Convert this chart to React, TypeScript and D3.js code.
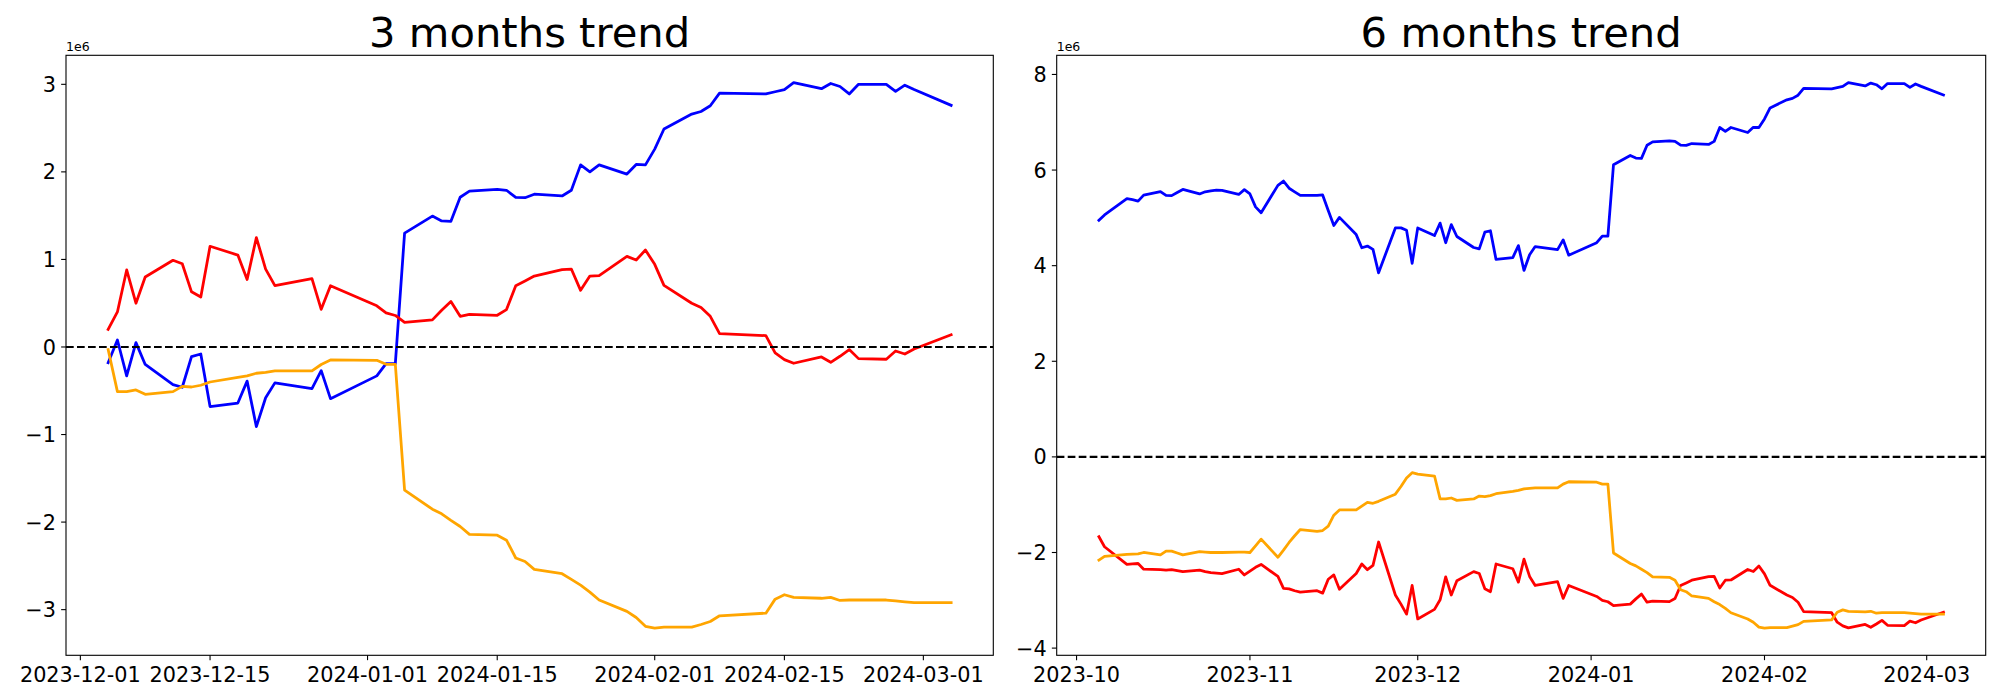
import React from "react";
import * as d3 from "d3";

// ---------- DATA (values in units of 1e6) ----------
// KRX trading days, 2023-10-05 .. 2023-12-01 (only in the 6-month chart)
const earlyDates = [
  "2023-10-05", "2023-10-06", "2023-10-10", "2023-10-11", "2023-10-12", "2023-10-13",
  "2023-10-16", "2023-10-17", "2023-10-18", "2023-10-19", "2023-10-20",
  "2023-10-23", "2023-10-24", "2023-10-25", "2023-10-26", "2023-10-27",
  "2023-10-30", "2023-10-31", "2023-11-01", "2023-11-02", "2023-11-03",
  "2023-11-06", "2023-11-07", "2023-11-08", "2023-11-09", "2023-11-10",
  "2023-11-13", "2023-11-14", "2023-11-15", "2023-11-16", "2023-11-17",
  "2023-11-20", "2023-11-21", "2023-11-22", "2023-11-23", "2023-11-24",
  "2023-11-27", "2023-11-28", "2023-11-29", "2023-11-30", "2023-12-01",
];

// KRX trading days, 2023-12-04 .. 2024-03-04
const dates3m = [
  "2023-12-04", "2023-12-05", "2023-12-06", "2023-12-07", "2023-12-08",
  "2023-12-11", "2023-12-12", "2023-12-13", "2023-12-14", "2023-12-15",
  "2023-12-18", "2023-12-19", "2023-12-20", "2023-12-21", "2023-12-22",
  "2023-12-26", "2023-12-27", "2023-12-28",
  "2024-01-02", "2024-01-03", "2024-01-04", "2024-01-05",
  "2024-01-08", "2024-01-09", "2024-01-10", "2024-01-11", "2024-01-12",
  "2024-01-15", "2024-01-16", "2024-01-17", "2024-01-18", "2024-01-19",
  "2024-01-22", "2024-01-23", "2024-01-24", "2024-01-25", "2024-01-26",
  "2024-01-29", "2024-01-30", "2024-01-31", "2024-02-01", "2024-02-02",
  "2024-02-05", "2024-02-06", "2024-02-07", "2024-02-08",
  "2024-02-13", "2024-02-14", "2024-02-15", "2024-02-16",
  "2024-02-19", "2024-02-20", "2024-02-21", "2024-02-22", "2024-02-23",
  "2024-02-26", "2024-02-27", "2024-02-28", "2024-02-29",
  "2024-03-04",
];

const dates6m = [...earlyDates, ...dates3m];

// 3 months trend
const blue3m = [
  -0.18, 0.08, -0.33, 0.05, -0.20, -0.43, -0.46, -0.11, -0.08, -0.68,
  -0.64, -0.39, -0.91, -0.58, -0.41, -0.475, -0.27, -0.59,
  -0.33, -0.19, -0.19, 1.30, 1.495, 1.44, 1.435, 1.71, 1.78,
  1.80, 1.79, 1.71, 1.705, 1.745, 1.725, 1.79, 2.08, 2.00, 2.08,
  1.975, 2.085, 2.08,
  2.26, 2.49, 2.66, 2.69, 2.755, 2.90, 2.89, 2.915, 2.94, 3.02,
  2.95, 3.01, 2.975, 2.89, 3.00, 3.00, 2.92, 2.99, 2.94,
  2.76,
];
const red3m = [
  0.20, 0.40, 0.88, 0.50, 0.80, 0.99, 0.95, 0.63, 0.57, 1.15,
  1.05, 0.77, 1.25, 0.89, 0.70, 0.78, 0.43, 0.70,
  0.47, 0.39, 0.36, 0.28, 0.31, 0.42, 0.52, 0.35, 0.373,
  0.362, 0.427, 0.70, 0.754, 0.81, 0.883, 0.89, 0.647, 0.81, 0.815,
  1.035, 0.993, 1.107,
  0.944, 0.704, 0.50, 0.45, 0.35, 0.153, 0.13, -0.068, -0.144, -0.186,
  -0.114, -0.175, -0.106, -0.03, -0.133, -0.14, -0.046, -0.08, -0.023,
  0.14,
];
const orange3m = [
  -0.03, -0.51, -0.51, -0.49, -0.54, -0.51, -0.45, -0.457, -0.437, -0.40,
  -0.346, -0.33, -0.30, -0.29, -0.274, -0.274, -0.20, -0.148,
  -0.152, -0.198, -0.198, -1.636, -1.853, -1.906, -1.98, -2.05, -2.14,
  -2.15, -2.207, -2.41, -2.45, -2.54, -2.59, -2.655, -2.72, -2.80, -2.89,
  -3.02, -3.09, -3.19,
  -3.21, -3.20, -3.20, -3.17, -3.135, -3.07, -3.04, -2.88, -2.83, -2.86,
  -2.87, -2.86, -2.895, -2.89, -2.89, -2.89, -2.90, -2.91, -2.92,
  -2.92,
];

// 6 months trend
const blue6m = [
  4.95, 5.06, 5.40, 5.38, 5.35, 5.475, 5.55, 5.47, 5.465, 5.53, 5.595,
  5.50, 5.545, 5.565, 5.58, 5.575, 5.49, 5.59,
  5.50, 5.23, 5.107, 5.68, 5.77, 5.62, 5.545, 5.47, 5.47, 5.48, 5.155, 4.84, 5.01,
  4.65, 4.375, 4.41, 4.34, 3.85, 4.79, 4.79, 4.74, 4.05, 4.79,
  4.63, 4.89, 4.48, 4.86, 4.61, 4.38, 4.35, 4.70, 4.73, 4.13,
  4.17, 4.42, 3.90, 4.23, 4.40, 4.335, 4.54, 4.22,
  4.48, 4.62, 4.62, 6.11, 6.305, 6.25, 6.245, 6.52, 6.59,
  6.61, 6.60, 6.52, 6.515, 6.555, 6.535, 6.60, 6.89, 6.81, 6.89,
  6.785, 6.895, 6.89,
  7.07, 7.30, 7.47, 7.50, 7.565, 7.71, 7.70, 7.725, 7.75, 7.83,
  7.76, 7.82, 7.785, 7.70, 7.81, 7.81, 7.73, 7.80, 7.75,
  7.57,
];
const red6m = [
  -1.67, -1.88, -2.25, -2.24, -2.23, -2.35, -2.36, -2.37, -2.36, -2.38, -2.40,
  -2.37, -2.40, -2.42, -2.43, -2.44, -2.35, -2.47,
  -2.39, -2.31, -2.25, -2.50, -2.75, -2.76, -2.80, -2.83, -2.80, -2.85, -2.56, -2.47, -2.77,
  -2.44, -2.24, -2.36, -2.27, -1.78, -2.89, -3.08, -3.29, -2.69, -3.39,
  -3.19, -2.99, -2.51, -2.89, -2.59, -2.40, -2.44, -2.76, -2.82, -2.24,
  -2.34, -2.62, -2.14, -2.50, -2.69, -2.61, -2.96, -2.69,
  -2.92, -3.00, -3.03, -3.11, -3.08, -2.97, -2.87, -3.04, -3.017,
  -3.028, -2.963, -2.69, -2.636, -2.58, -2.507, -2.50, -2.743, -2.58, -2.575,
  -2.355, -2.397, -2.283,
  -2.446, -2.686, -2.89, -2.94, -3.04, -3.237, -3.26, -3.458, -3.534, -3.576,
  -3.504, -3.565, -3.496, -3.42, -3.523, -3.53, -3.436, -3.47, -3.413,
  -3.25,
];
const orange6m = [
  -2.16, -2.08, -2.04, -2.035, -2.03, -2.00, -2.05, -1.97, -1.97, -2.01, -2.05,
  -1.98, -1.99, -2.00, -2.00, -2.00, -1.99, -1.99,
  -2.00, -1.86, -1.72, -2.10, -1.95, -1.79, -1.65, -1.52, -1.56, -1.54, -1.45, -1.22, -1.11,
  -1.11, -1.03, -0.95, -0.97, -0.93, -0.78, -0.62, -0.44, -0.33, -0.36,
  -0.40, -0.88, -0.88, -0.86, -0.91, -0.88, -0.82, -0.83, -0.81, -0.77,
  -0.72, -0.70, -0.67, -0.66, -0.65, -0.65, -0.57, -0.52,
  -0.53, -0.57, -0.57, -2.01, -2.23, -2.28, -2.35, -2.42, -2.51,
  -2.52, -2.58, -2.78, -2.82, -2.91, -2.96, -3.03, -3.09, -3.17, -3.26,
  -3.39, -3.46, -3.56,
  -3.58, -3.57, -3.57, -3.54, -3.51, -3.44, -3.41, -3.25, -3.20, -3.23,
  -3.24, -3.23, -3.27, -3.26, -3.26, -3.26, -3.27, -3.28, -3.29,
  -3.29,
];

const xTicks3m = ["2023-12-01", "2023-12-15", "2024-01-01", "2024-01-15", "2024-02-01", "2024-02-15", "2024-03-01"];
const xTickLabels3m = ["2023-12-01", "2023-12-15", "2024-01-01", "2024-01-15", "2024-02-01", "2024-02-15", "2024-03-01"];
const xTicks6m = ["2023-10-01", "2023-11-01", "2023-12-01", "2024-01-01", "2024-02-01", "2024-03-01"];
const xTickLabels6m = ["2023-10", "2023-11", "2023-12", "2024-01", "2024-02", "2024-03"];
const yTicks3m = [-3, -2, -1, 0, 1, 2, 3];
const yTicks6m = [-4, -2, 0, 2, 4, 6, 8];

const seriesColors = ["#0000ff", "#ff0000", "#ffa500"];

// ---------- DRAWING ----------
const parse = d3.utcParse("%Y-%m-%d");
const FONT = "DejaVu Sans, Verdana, sans-serif";

type PanelProps = {
  id: string;
  x0: number;
  x1: number;
  y0: number;
  y1: number;
  title: string;
  dates: string[];
  series: number[][];
  xTicks: string[];
  xTickLabels: string[];
  yTicks: number[];
};

function Panel(p: PanelProps) {
  const ds = p.dates.map((s) => parse(s) as Date);
  const [dMin, dMax] = d3.extent(ds) as [Date, Date];
  const span = +dMax - +dMin;
  const x = d3
    .scaleUtc()
    .domain([new Date(+dMin - span * 0.05), new Date(+dMax + span * 0.05)])
    .range([p.x0, p.x1]);
  const all = p.series.flat();
  const [vMin, vMax] = d3.extent(all) as [number, number];
  const vSpan = vMax - vMin;
  const y = d3
    .scaleLinear()
    .domain([vMin - vSpan * 0.05, vMax + vSpan * 0.05])
    .range([p.y1, p.y0]);

  const line = d3
    .line<[Date, number]>()
    .x((d) => x(d[0]))
    .y((d) => y(d[1]));

  const fmt = (v: number) => (v < 0 ? "\u2212" + Math.abs(v) : String(v));
  const tickLen = 4.86;

  return (
    <g>
      <defs>
        <clipPath id={p.id}>
          <rect x={p.x0} y={p.y0} width={p.x1 - p.x0} height={p.y1 - p.y0} />
        </clipPath>
      </defs>
      <g clipPath={`url(#${p.id})`}>
        {p.series.map((vals, i) => (
          <path
            key={i}
            d={line(ds.map((d, j) => [d, vals[j]] as [Date, number])) || ""}
            fill="none"
            stroke={seriesColors[i]}
            strokeWidth={2.78}
            strokeLinejoin="round"
            strokeLinecap="square"
          />
        ))}
        <line
          x1={p.x0}
          x2={p.x1}
          y1={y(0)}
          y2={y(0)}
          stroke="#000"
          strokeWidth={2.08}
          strokeDasharray="7.7,3.3"
        />
      </g>
      <rect
        x={p.x0}
        y={p.y0}
        width={p.x1 - p.x0}
        height={p.y1 - p.y0}
        fill="none"
        stroke="#000"
        strokeWidth={1.1}
      />
      {p.yTicks.map((t) => (
        <g key={"y" + t}>
          <line x1={p.x0 - tickLen} x2={p.x0} y1={y(t)} y2={y(t)} stroke="#000" strokeWidth={1.1} />
          <text
            x={p.x0 - 10}
            y={y(t) + 7.6}
            textAnchor="end"
            fontSize={20.8}
            fontFamily={FONT}
            fill="#000"
          >
            {fmt(t)}
          </text>
        </g>
      ))}
      {p.xTicks.map((t, i) => {
        const xx = x(parse(t) as Date);
        return (
          <g key={"x" + t}>
            <line x1={xx} x2={xx} y1={p.y1} y2={p.y1 + tickLen} stroke="#000" strokeWidth={1.1} />
            <text x={xx} y={681.6} textAnchor="middle" fontSize={20.8} fontFamily={FONT} fill="#000">
              {p.xTickLabels[i]}
            </text>
          </g>
        );
      })}
      <text x={p.x0} y={50.8} fontSize={12.5} fontFamily={FONT} fill="#000">
        1e6
      </text>
      <text
        x={(p.x0 + p.x1) / 2}
        y={47}
        textAnchor="middle"
        fontSize={41.7}
        fontFamily={FONT}
        fill="#000"
      >
        {p.title}
      </text>
    </g>
  );
}

export default function App() {
  return (
    <svg
      width={2000}
      height={700}
      viewBox="0 0 2000 700"
      style={{ position: "absolute", left: 0, top: 0, background: "#fff" }}
    >
      <rect x={0} y={0} width={2000} height={700} fill="#fff" />
      <Panel
        id="clip3m"
        x0={66}
        x1={993.3}
        y0={55.3}
        y1={655.3}
        title="3 months trend"
        dates={dates3m}
        series={[blue3m, red3m, orange3m]}
        xTicks={xTicks3m}
        xTickLabels={xTickLabels3m}
        yTicks={yTicks3m}
      />
      <Panel
        id="clip6m"
        x0={1056.7}
        x1={1985.7}
        y0={55.3}
        y1={655.3}
        title="6 months trend"
        dates={dates6m}
        series={[blue6m, red6m, orange6m]}
        xTicks={xTicks6m}
        xTickLabels={xTickLabels6m}
        yTicks={yTicks6m}
      />
    </svg>
  );
}
